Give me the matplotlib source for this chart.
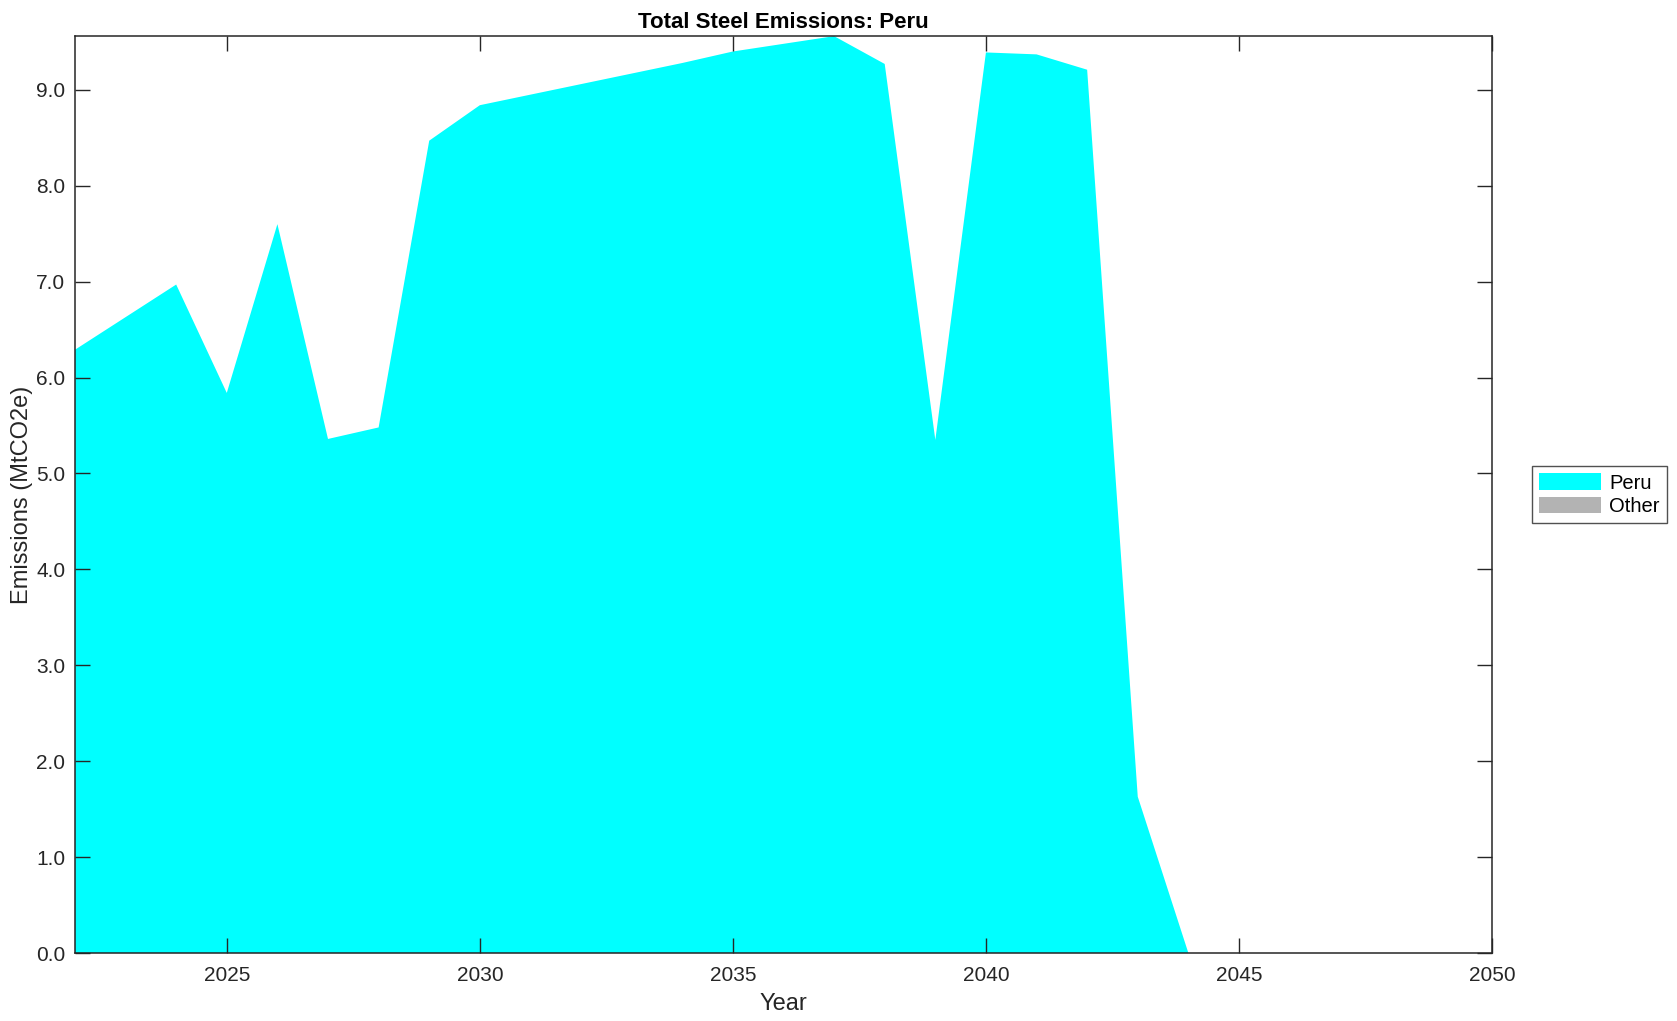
import numpy as np
import matplotlib.pyplot as plt
from matplotlib.ticker import FormatStrFormatter

plt.rcParams['font.family'] = ['Liberation Sans', 'DejaVu Sans']

# yearly values (MtCO2e)
years = list(range(2022, 2051))
peru = [6.29, 6.63, 6.97, 5.84, 7.60, 5.36, 5.48, 8.47, 8.84, 8.95,
        9.06, 9.17, 9.28, 9.40, 9.48, 9.56, 9.27, 5.35, 9.39, 9.37,
        9.21, 1.63, 0.0, 0.0, 0.0, 0.0, 0.0, 0.0, 0.0]
other = [0.0] * len(years)
labels = ["Peru", "Other"]
colors = ["#00ffff", "#b3b3b3"]

fig = plt.figure(figsize=(16.77, 10.21), dpi=100)
ax = fig.add_axes([0.0447, 0.0666, 0.845, 0.898])

ax.stackplot(years, peru, other, labels=labels, colors=colors, linewidth=0)

ax.set_xlim(2022, 2050)
ax.set_ylim(0, max(peru))
ax.set_xticks(range(2025, 2051, 5))
ax.set_yticks(np.arange(0, 10, 1.0))
ax.yaxis.set_major_formatter(FormatStrFormatter('%.1f'))
ax.tick_params(direction='in', length=10.5, width=1, top=True, right=True,
               labelsize=15, colors='#262626', labelcolor='#262626')
ax.tick_params(axis='x', pad=9)
ax.tick_params(axis='y', pad=7)
for s in ax.spines.values():
    s.set_linewidth(1.1)
    s.set_color('#262626')

ax.set_title("Total Steel Emissions: Peru", fontsize=16, fontweight='bold', pad=6)
ax.set_xlabel("Year", fontsize=17, color='#262626', labelpad=6)
ax.set_ylabel("Emissions (MtCO2e)", fontsize=17, color='#262626', labelpad=2)

leg = ax.legend(loc='center left', bbox_to_anchor=(1.028, 0.5), fontsize=14.5,
                frameon=True, fancybox=False, edgecolor='#262626',
                handlelength=3.1, handleheight=0.9, borderpad=0.35,
                labelspacing=0.2, handletextpad=0.4, borderaxespad=0)
leg.get_frame().set_linewidth(1.0)

fig.savefig("out.png", dpi=100)
